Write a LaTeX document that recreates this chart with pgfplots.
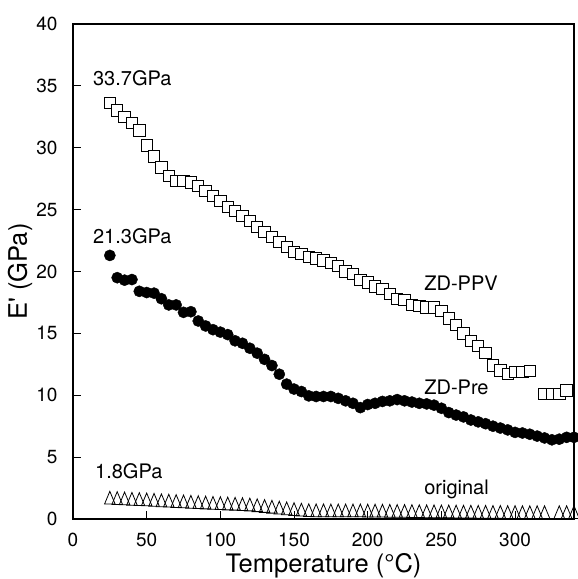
\documentclass[border=0pt]{standalone}
\usepackage{fontspec}
\setmainfont{TeX Gyre Heros}
\usepackage{pgfplots}
\pgfplotsset{compat=1.18}

\begin{document}
\begin{tikzpicture}
\useasboundingbox (-73pt,-60pt) rectangle (505pt,519pt);
\begin{axis}[
    at={(0,0)}, anchor=south west,
    scale only axis,
    width=501pt, height=495pt,
    xmin=0, xmax=340,
    ymin=0, ymax=40,
    xtick={0,50,...,300},
    ytick={0,5,...,40},
    tick align=inside,
    xtick pos=lower, ytick pos=left,
    major tick length=8.5pt,
    axis line style={line width=1.1pt},
    tick style={line width=0.9pt, black},
    tick label style={font=\fontsize{19}{21}\selectfont},
    /pgf/number format/assume math mode=true,
    xticklabel style={yshift=-10pt},
    yticklabel style={xshift=-12pt},
    xlabel={Temperature (°C)},
    ylabel={E\textquotesingle{} (GPa)},
    label style={font=\fontsize{25.5}{28}\selectfont},
    xlabel style={at={(axis description cs:0.5,0)}, anchor=base, yshift=-53pt},
    ylabel style={at={(axis description cs:0,0.5)}, anchor=base, yshift=46pt},
]
% ZD-PPV
\addplot[only marks, mark=square*, mark size=5.7pt,
    mark options={fill=white, draw=black, line width=0.9pt}] coordinates {
(25,33.6) (30,33.0) (35,32.5) (40,32.0) (45,31.4) (50,30.2) (55,29.3)
(60,28.4) (65,27.7) (70,27.3) (75,27.3) (80,27.2) (85,26.9) (90,26.5)
(95,26.1) (100,25.7) (105,25.2) (110,24.9) (115,24.5) (120,24.1)
(125,23.6) (130,23.2) (135,22.8) (140,22.4) (145,22.0) (150,21.6)
(155,21.4) (160,21.2) (165,21.05) (170,20.9) (175,20.7) (180,20.45)
(185,20.0) (190,19.8) (195,19.3) (200,19.1) (205,18.8) (210,18.6)
(215,18.2) (220,17.8) (225,17.7) (230,17.3) (235,17.2) (240,17.1)
(245,17.1) (250,16.8) (255,16.2) (260,15.7) (265,15.0) (270,14.4)
(275,14.0) (280,13.4) (285,12.4) (290,12.0) (295,11.7) (300,11.9)
(305,11.9) (310,11.95) (320,10.1) (325,10.1) (330,10.1) (335,10.4)
};
% ZD-Pre
\addplot[only marks, mark=*, mark size=5.6pt,
    mark options={fill=black, draw=black}] coordinates {
(25,21.3) (30,19.5) (35,19.3) (40,19.35) (45,18.4) (50,18.3) (55,18.25)
(60,17.8) (65,17.3) (70,17.3) (75,16.7) (80,16.75) (85,16.0) (90,15.6)
(95,15.3) (100,15.1) (105,14.9) (110,14.4) (115,14.2) (120,13.8)
(125,13.4) (130,12.9) (135,12.4) (140,11.7) (145,10.9) (150,10.5)
(155,10.3) (160,9.95) (165,9.9) (170,9.9) (175,9.9) (180,9.75)
(185,9.55) (190,9.35) (195,9.0) (200,9.25) (205,9.35) (210,9.5)
(215,9.55) (220,9.65) (225,9.55) (230,9.45) (235,9.35) (240,9.3)
(245,9.2) (250,8.95) (255,8.6) (260,8.4) (265,8.25) (270,8.0)
(275,7.85) (280,7.7) (285,7.5) (290,7.35) (295,7.2) (300,7.0)
(305,6.95) (310,6.85) (315,6.7) (320,6.55) (325,6.4) (330,6.45)
(335,6.6) (340,6.6)
};
% original
\addplot[only marks, mark=triangle, mark size=8.5pt,
    mark options={xscale=0.72, draw=black, line width=0.8pt}] coordinates {
(25,1.55) (30,1.52) (35,1.49) (40,1.46) (45,1.44) (50,1.41) (55,1.38)
(60,1.34) (65,1.31) (70,1.28) (75,1.25) (80,1.22) (85,1.19) (90,1.16)
(95,1.13) (100,1.11) (105,1.08) (110,1.06) (115,1.03) (120,1.00)
(125,0.94) (130,0.88) (135,0.82) (140,0.75) (145,0.69) (150,0.63)
(155,0.58) (160,0.54) (165,0.53) (170,0.53) (175,0.52) (180,0.52)
(185,0.52) (190,0.52) (195,0.52) (200,0.51) (205,0.51) (210,0.50)
(215,0.49) (220,0.48) (225,0.48) (230,0.47) (235,0.46) (240,0.45)
(245,0.45) (250,0.44) (255,0.44) (260,0.43) (265,0.42) (270,0.42)
(275,0.41) (280,0.41) (285,0.40) (290,0.40) (295,0.39) (300,0.39)
(305,0.38) (310,0.38) (315,0.38) (320,0.38) (330,0.38) (335,0.38)
(340,0.38)
};
\begin{scope}[every node/.style={font=\fontsize{20}{22}\selectfont, inner sep=0pt}]
\node[anchor=base west] at (axis cs:13.5,35.0) {33.7GPa};
\node[anchor=base west] at (axis cs:13.5,22.3) {21.3GPa};
\node[anchor=base west] at (axis cs:14.9,3.28) {1.8GPa};
\node[anchor=base west] at (axis cs:238.3,18.5) {ZD-PPV};
\node[anchor=base west] at (axis cs:238.3,10.1) {ZD-Pre};
\node[anchor=base west] at (axis cs:238.3,1.94) {original};
\end{scope}
\end{axis}
\end{tikzpicture}
\end{document}
